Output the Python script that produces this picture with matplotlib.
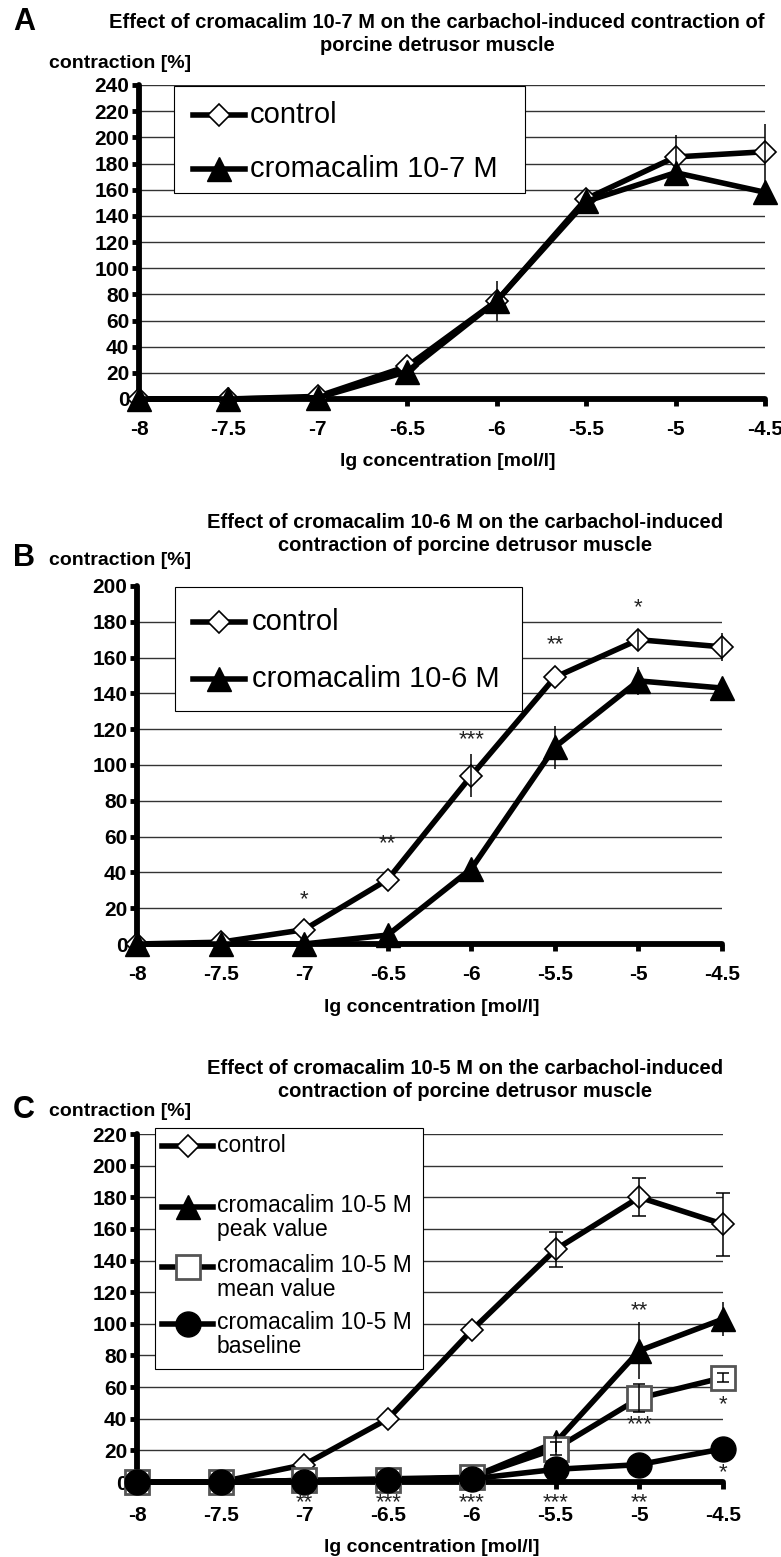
import matplotlib.pyplot as plt
from matplotlib.lines import Line2D
from matplotlib.patches import Rectangle

plt.rcParams['font.family'] = ['Liberation Sans', 'DejaVu Sans']

W, H = 781, 1557

conc = [-8, -7.5, -7, -6.5, -6, -5.5, -5, -4.5]
conc_labels = ['-8', '-7.5', '-7', '-6.5', '-6', '-5.5', '-5', '-4.5']

# panel A: cromacalim 10-7 M
a_control = [0, 0, 2, 25, 75, 153, 185, 189]
a_control_err = [0, 0, 0, 0, 15, 0, 17, 21]
a_crom = [0, 0, 1, 21, 75, 151, 173, 158]
a_crom_err = [0, 0, 0, 0, 0, 0, 0, 10]

# panel B: cromacalim 10-6 M
b_control = [0, 1, 8, 36, 94, 149, 170, 166]
b_control_err = [0, 0, 0, 0, 12, 0, 6, 8]
b_crom = [0, 0, 0, 5, 42, 110, 147, 143]
b_crom_err = [0, 0, 0, 0, 0, 12, 8, 0]
b_star_x = [-7, -6.5, -6, -5.5, -5]
b_star_y = [25, 56, 114, 167, 188]
b_star_txt = ['*', '**', '***', '**', '*']

# panel C: cromacalim 10-5 M
c_control = [0, 0, 11, 40, 96, 147, 180, 163]
c_control_err = [0, 0, 0, 0, 0, 11, 12, 20]
c_peak = [0, 0, 1, 2, 3, 25, 83, 103]
c_peak_err = [0, 0, 0, 0, 0, 6, 18, 11]
c_mean = [0, 0, 1, 1, 3, 21, 53, 66]
c_mean_err = [0, 0, 0, 0, 0, 4, 9, 3]
c_base = [0, 0, 0, 1, 2, 8, 11, 21]
c_star_x = [-7, -6.5, -6, -5.5, -5, -5, -5, -4.5, -4.5]
c_star_y = [-13, -13, -13, -13, -13, 108, 36, 49, 6]
c_star_txt = ['**', '***', '***', '***', '**', '**', '***', '*', '*']

fig = plt.figure(figsize=(W / 100, H / 100), dpi=100)


def fx(x):
    return x / W


def fy(y):
    return 1 - y / H


# marker styles
diamond = dict(marker='D', ms=11, mfc='white', mec='black', mew=1.2)
triangle = dict(marker='^', ms=17, mfc='black', mec='black')
square = dict(marker='s', ms=17, mfc='white', mec='#555555', mew=2)
circle = dict(marker='o', ms=18, mfc='black', mec='black')


def make_axes(left, right, top, bottom, ymax, xpad=10):
    ax = fig.add_axes([fx(left), fy(bottom), fx(right) - fx(left), fy(top) - fy(bottom)])
    ax.set_xlim(-8, -4.5)
    ax.set_ylim(0, ymax)
    ax.set_xticks(conc, labels=conc_labels, fontsize=15, fontweight='bold')
    yt = list(range(0, ymax + 1, 20))
    ax.set_yticks(yt, labels=[str(v) for v in yt], fontsize=15, fontweight='bold')
    ax.tick_params(axis='both', direction='out', length=5, width=3.5, color='black')
    ax.tick_params(axis='x', pad=xpad)
    ax.tick_params(axis='y', pad=2)
    for s in ['top', 'right']:
        ax.spines[s].set_visible(False)
    for s in ['left', 'bottom']:
        ax.spines[s].set_linewidth(4.2)
        ax.spines[s].set_capstyle('round')
    ax.yaxis.grid(True, color='#333333', lw=1.0)
    ax.set_axisbelow(True)
    return ax


def series(ax, y, err, style, capsize=0):
    ax.plot(conc, y, color='black', lw=4, clip_on=False, zorder=3, **style)
    ex = [x for x, e in zip(conc, err) if e > 0]
    ey = [v for v, e in zip(y, err) if e > 0]
    ee = [e for e in err if e > 0]
    if ex:
        ax.errorbar(ex, ey, yerr=ee, fmt='none', ecolor='black', elinewidth=1.1,
                    capsize=capsize, capthick=1.1, zorder=4, clip_on=False)


def stars(ax, xs, ys, txt):
    for x, y, t in zip(xs, ys, txt):
        ax.text(x, y, t, ha='center', va='center', fontsize=16, color='#222222',
                clip_on=False, zorder=5)


def key(box, rows, hx, tx, fs):
    x0, y0, x1, y1 = box
    fig.add_artist(Rectangle((fx(x0), fy(y1)), fx(x1) - fx(x0), fy(y0) - fy(y1),
                             transform=fig.transFigure, facecolor='white',
                             edgecolor='black', lw=0.8, zorder=5))
    for y, label, style in rows:
        xm = (hx[0] + hx[1]) / 2
        fig.add_artist(Line2D([fx(hx[0]), fx(xm), fx(hx[1])], [fy(y)] * 3,
                              transform=fig.transFigure, color='black', lw=4,
                              markevery=[1], zorder=6, **style))
        if '\n' in label:
            fig.text(fx(tx), fy(y - 13), label, ha='left', va='top',
                     fontsize=fs, linespacing=1.05, zorder=7)
        else:
            fig.text(fx(tx), fy(y), label, ha='left', va='center', fontsize=fs, zorder=7)


def panel_text(letter, ly, title, t1y, tcx, label_y, xlabel_y, xlabel_cx):
    fig.text(fx(24), fy(ly), letter, ha='center', va='center', fontsize=22, fontweight='bold')
    fig.text(fx(tcx), fy(t1y), title, ha='center', va='center', fontsize=14.5,
             fontweight='bold', linespacing=1.25, multialignment='center')
    fig.text(fx(120), fy(label_y), 'contraction [%]', ha='center', va='center',
             fontsize=14, fontweight='bold')
    fig.text(fx(xlabel_cx), fy(xlabel_y), 'lg concentration [mol/l]', ha='center',
             va='center', fontsize=14, fontweight='bold')


# ---------- A ----------
axA = make_axes(139, 765, 85, 399, 240)
series(axA, a_control, a_control_err, diamond)
series(axA, a_crom, a_crom_err, triangle)
panel_text('A', 22, 'Effect of cromacalim 10-7 M on the carbachol-induced contraction of\n'
           'porcine detrusor muscle', 34, 437, 64, 462, 448)
key((174, 86, 525, 193), [(115, 'control', diamond), (169, 'cromacalim 10-7 M', triangle)],
    (193, 245), 250, 21)

# ---------- B ----------
axB = make_axes(137, 722, 586, 944, 200)
axB.get_ygridlines()[-1].set_visible(False)
series(axB, b_control, b_control_err, diamond)
series(axB, b_crom, b_crom_err, triangle)
stars(axB, b_star_x, b_star_y, b_star_txt)
panel_text('B', 558, 'Effect of cromacalim 10-6 M on the carbachol-induced\n'
           'contraction of porcine detrusor muscle', 534, 465, 561, 1008, 432)
key((175, 587, 522, 711), [(622, 'control', diamond), (679, 'cromacalim 10-6 M', triangle)],
    (193, 245), 252, 21)

# ---------- C ----------
axC = make_axes(137, 723, 1134, 1482, 220, xpad=12)
series(axC, c_control, c_control_err, diamond, capsize=5)
series(axC, c_peak, c_peak_err, triangle)
series(axC, c_mean, c_mean_err, square, capsize=4)
series(axC, c_base, [0] * len(c_base), circle)
stars(axC, c_star_x, c_star_y, c_star_txt)
panel_text('C', 1110, 'Effect of cromacalim 10-5 M on the carbachol-induced\n'
           'contraction of porcine detrusor muscle', 1080, 465, 1111, 1548, 432)
key((155, 1128, 423, 1369),
    [(1146, 'control', diamond),
     (1207, 'cromacalim 10-5 M\npeak value', triangle),
     (1267, 'cromacalim 10-5 M\nmean value', square),
     (1324, 'cromacalim 10-5 M\nbaseline', circle)],
    (162, 213), 217, 16.5)

fig.savefig('out.png', dpi=100)
